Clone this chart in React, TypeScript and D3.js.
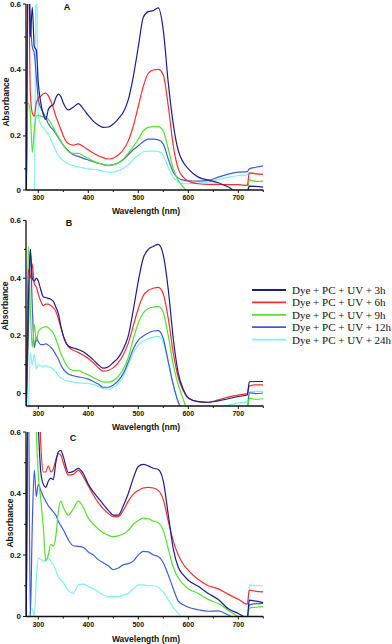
import React from "react";
import * as d3 from "d3";

// shared wavelength grid (nm)
const wavelengths = [
  276, 280, 284, 288, 292, 296, 300, 305, 310, 315, 320, 325, 330, 335, 340, 345, 350, 360, 370, 380,
  390, 400, 410, 420, 430, 440, 450, 460, 470, 480, 490, 500, 510, 520, 530, 540, 550, 560, 570, 580,
  590, 600, 620, 640, 660, 680, 700, 718, 722, 735, 750,
];

const seriesNames = [
  "Dye + PC + UV + 3h",
  "Dye + PC + UV + 6h",
  "Dye + PC + UV + 9h",
  "Dye + PC + UV + 12h",
  "Dye + PC + UV + 24h",
];
const seriesColors = ["#1c1c8e", "#f2302e", "#52e22c", "#3b5ddc", "#7cf3ec"];

const xTicks = [300, 400, 500, 600, 700];
const xMinorTicks = [350, 450, 550, 650, 750];
const yTicks = [0, 0.2, 0.4, 0.6];
const yMinorTicks = [0.1, 0.3, 0.5];

// panel A
const a3h = [0, 0.75, 0.5, 0.59, 0.47, 0.46, 0.36, 0.3, 0.265, 0.25, 0.28, 0.29, 0.295, 0.315, 0.327, 0.32, 0.3, 0.279, 0.287, 0.298, 0.282, 0.262, 0.245, 0.233, 0.226, 0.227, 0.236, 0.252, 0.272, 0.31, 0.38, 0.47, 0.56, 0.577, 0.58, 0.588, 0.52, 0.36, 0.235, 0.155, 0.12, 0.1, 0.075, 0.066, 0.058, 0.045, 0.03, 0.03, 0.048, 0.047, 0.045];
const a6h = [0, 0.75, 0.33, 0.27, 0.26, 0.3, 0.315, 0.32, 0.328, 0.33, 0.322, 0.305, 0.285, 0.26, 0.24, 0.22, 0.2, 0.177, 0.172, 0.176, 0.168, 0.158, 0.148, 0.14, 0.134, 0.13, 0.133, 0.142, 0.158, 0.185, 0.23, 0.29, 0.35, 0.39, 0.4, 0.402, 0.385, 0.29, 0.17, 0.1, 0.075, 0.063, 0.055, 0.053, 0.053, 0.052, 0.052, 0.05, 0.088, 0.085, 0.083];
const a9h = [0, 0.3, 0.27, 0.15, 0.22, 0.26, 0.262, 0.26, 0.258, 0.257, 0.25, 0.24, 0.225, 0.21, 0.198, 0.185, 0.172, 0.153, 0.147, 0.147, 0.14, 0.132, 0.124, 0.118, 0.113, 0.11, 0.112, 0.118, 0.13, 0.148, 0.168, 0.19, 0.215, 0.226, 0.228, 0.228, 0.215, 0.16, 0.1, 0.065, 0.045, 0.03, 0.025, 0.025, 0.025, 0.025, 0.025, 0.025, 0.067, 0.062, 0.063];
const a12h = [0, 0.75, 0.56, 0.47, 0.45, 0.38, 0.31, 0.285, 0.27, 0.255, 0.237, 0.226, 0.218, 0.207, 0.195, 0.183, 0.172, 0.155, 0.143, 0.138, 0.132, 0.127, 0.122, 0.117, 0.113, 0.111, 0.113, 0.118, 0.128, 0.143, 0.158, 0.17, 0.183, 0.19, 0.19, 0.188, 0.175, 0.13, 0.09, 0.072, 0.066, 0.064, 0.063, 0.065, 0.075, 0.084, 0.09, 0.092, 0.1, 0.105, 0.109];
const a24h = [0, 0, 0, 0, 0, 0.75, 0.26, 0.235, 0.225, 0.215, 0.205, 0.19, 0.172, 0.155, 0.14, 0.132, 0.125, 0.115, 0.11, 0.106, 0.103, 0.1, 0.099, 0.097, 0.093, 0.09, 0.09, 0.095, 0.102, 0.112, 0.128, 0.142, 0.152, 0.154, 0.154, 0.153, 0.14, 0.105, 0.075, 0.06, 0.055, 0.055, 0.057, 0.06, 0.068, 0.075, 0.08, 0.082, 0.088, 0.086, 0.085];

// panel B
const b3h = [-0.05, 0.3, 0.5, 0.4, 0.39, 0.4, 0.39, 0.36, 0.335, 0.333, 0.33, 0.327, 0.32, 0.3, 0.278, 0.235, 0.2, 0.165, 0.158, 0.153, 0.145, 0.132, 0.117, 0.1, 0.088, 0.093, 0.108, 0.125, 0.155, 0.2, 0.29, 0.39, 0.47, 0.5, 0.51, 0.517, 0.48, 0.36, 0.19, 0.07, 0.015, -0.015, -0.028, -0.03, -0.025, -0.018, -0.01, -0.005, 0.041, 0.042, 0.042];
const b6h = [-0.05, 0.43, 0.4, 0.45, 0.38, 0.37, 0.345, 0.32, 0.305, 0.31, 0.31, 0.305, 0.298, 0.285, 0.26, 0.23, 0.2, 0.163, 0.15, 0.143, 0.133, 0.122, 0.107, 0.09, 0.078, 0.08, 0.09, 0.107, 0.135, 0.175, 0.235, 0.295, 0.34, 0.358, 0.365, 0.368, 0.345, 0.26, 0.14, 0.055, 0.01, -0.015, -0.028, -0.03, -0.022, -0.012, -0.005, 0, 0.026, 0.03, 0.03];
const b9h = [-0.05, 0.51, 0.3, 0.16, 0.24, 0.18, 0.215, 0.225, 0.23, 0.232, 0.228, 0.22, 0.21, 0.19, 0.165, 0.14, 0.12, 0.09, 0.08, 0.08, 0.072, 0.065, 0.055, 0.047, 0.04, 0.04, 0.045, 0.06, 0.085, 0.125, 0.19, 0.245, 0.28, 0.295, 0.3, 0.302, 0.28, 0.2, 0.1, 0.03, -0.02, -0.06, -0.06, -0.06, -0.06, -0.06, -0.06, -0.06, -0.016, -0.02, -0.017];
const b12h = [-0.05, 0.2, 0.5, 0.3, 0.16, 0.195, 0.18, 0.17, 0.17, 0.172, 0.168, 0.16, 0.15, 0.135, 0.12, 0.1, 0.085, 0.068, 0.062, 0.058, 0.055, 0.05, 0.042, 0.033, 0.022, 0.022, 0.03, 0.045, 0.07, 0.11, 0.155, 0.185, 0.2, 0.21, 0.217, 0.218, 0.19, 0.11, 0.03, -0.03, -0.06, -0.06, -0.06, -0.06, -0.06, -0.06, -0.06, -0.06, 0.003, 0, 0.002];
const b24h = [-0.05, -0.05, 0.14, 0.1, 0.135, 0.085, 0.1, 0.095, 0.095, 0.097, 0.093, 0.09, 0.085, 0.075, 0.063, 0.055, 0.05, 0.043, 0.04, 0.038, 0.036, 0.035, 0.032, 0.026, 0.017, 0.015, 0.022, 0.035, 0.06, 0.1, 0.14, 0.168, 0.183, 0.19, 0.196, 0.198, 0.175, 0.11, 0.03, -0.03, -0.06, -0.06, -0.06, -0.06, -0.055, -0.04, -0.032, -0.028, 0.006, 0.008, 0.008];

// panel C
const c3h = [0, 0.8, 0.8, 0.8, 0.8, 0.8, 0.62, 0.47, 0.43, 0.42, 0.44, 0.45, 0.445, 0.5, 0.535, 0.54, 0.52, 0.468, 0.472, 0.482, 0.465, 0.43, 0.405, 0.385, 0.365, 0.345, 0.33, 0.33, 0.36, 0.4, 0.45, 0.488, 0.495, 0.49, 0.482, 0.478, 0.44, 0.33, 0.22, 0.16, 0.135, 0.118, 0.098, 0.075, 0.055, 0.025, 0.01, -0.005, 0.053, 0.05, 0.045];
const c6h = [0, 0.8, 0.8, 0.8, 0.8, 0.8, 0.8, 0.56, 0.47, 0.47, 0.49, 0.47, 0.48, 0.51, 0.53, 0.525, 0.5, 0.46, 0.462, 0.475, 0.455, 0.425, 0.395, 0.37, 0.35, 0.335, 0.325, 0.325, 0.345, 0.375, 0.398, 0.41, 0.418, 0.42, 0.418, 0.41, 0.38, 0.31, 0.245, 0.2, 0.17, 0.15, 0.12, 0.1, 0.09, 0.072, 0.056, 0.04, 0.086, 0.082, 0.08];
const c9h = [0, 0.8, 0.8, 0.8, 0.8, 0.6, 0.46, 0.38, 0.29, 0.18, 0.2, 0.235, 0.23, 0.26, 0.34, 0.375, 0.355, 0.33, 0.35, 0.375, 0.355, 0.32, 0.3, 0.285, 0.272, 0.264, 0.26, 0.262, 0.268, 0.28, 0.3, 0.312, 0.32, 0.318, 0.31, 0.305, 0.28, 0.22, 0.16, 0.125, 0.105, 0.09, 0.075, 0.055, 0.042, 0.02, 0, -0.01, 0.027, 0.03, 0.032];
const c12h = [0, 0.8, 0, 0.3, 0.476, 0.39, 0.43, 0.41, 0.39, 0.375, 0.36, 0.35, 0.34, 0.33, 0.31, 0.295, 0.282, 0.25, 0.23, 0.228, 0.225, 0.21, 0.2, 0.185, 0.175, 0.165, 0.152, 0.158, 0.168, 0.172, 0.18, 0.2, 0.212, 0.21, 0.2, 0.195, 0.175, 0.135, 0.09, 0.05, 0.038, 0.03, 0.022, 0.017, 0.018, 0.005, -0.01, -0.01, 0.038, 0.042, 0.043];
const c24h = [0, 0, 0.02, 0.025, 0, 0.12, 0.19, 0.185, 0.18, 0.185, 0.19, 0.18, 0.17, 0.15, 0.13, 0.12, 0.11, 0.085, 0.075, 0.103, 0.105, 0.098, 0.09, 0.08, 0.07, 0.065, 0.065, 0.065, 0.07, 0.075, 0.09, 0.103, 0.103, 0.1, 0.1, 0.095, 0.08, 0.055, 0.03, 0.01, -0.01, -0.02, -0.02, -0.02, -0.02, -0.02, -0.02, -0.02, 0.102, 0.1, 0.1];

const panels = [
  { id: "A", series: [a3h, a6h, a9h, a12h, a24h], yDomain: [0.036, 0.6], top: 4, bottom: 190,
    letter: [67, 7], tickY: 197, titleY: 211, absX: 6.2, absY: 102 },
  { id: "B", series: [b3h, b6h, b9h, b12h, b24h], yDomain: [-0.043, 0.6], top: 220.5, bottom: 406,
    letter: [69, 223], tickY: 413.3, titleY: 426.7, absX: 4.5, absY: 306 },
  { id: "C", series: [c3h, c6h, c9h, c12h, c24h], yDomain: [0, 0.6], top: 432, bottom: 616.5,
    letter: [73, 438], tickY: 624.7, titleY: 638.5, absX: 9.7, absY: 523 },
];

const x = d3.scaleLinear().domain([275.4, 750]).range([26, 263.3]);
const sans = "Liberation Sans, Arial, sans-serif";

function Panel({ p }) {
  const y = d3.scaleLinear().domain(p.yDomain).range([p.bottom, p.top]);
  const yPos = (v) => y(Math.max(v, p.yDomain[0]));
  const left = x.range()[0];
  const right = x.range()[1];
  const line = d3
    .line()
    .x((d) => x(d[0]))
    .y((d) => y(d[1]))
    .curve(d3.curveMonotoneX);

  return (
    <g>
      <clipPath id={"clip" + p.id}>
        <rect x={left} y={y(0.6)} width={right - left} height={p.bottom - y(0.6)} />
      </clipPath>
      <g clipPath={`url(#clip${p.id})`}>
        {p.series
          .map((vals, i) => ({ vals, i }))
          .reverse()
          .map(({ vals, i }) => (
            <path
              key={i}
              d={line(wavelengths.map((w, k) => [w, vals[k]]))}
              fill="none"
              stroke={seriesColors[i]}
              strokeWidth={1.2}
            />
          ))}
      </g>
      {/* y axis */}
      <line x1={left} x2={left} y1={y(0.6)} y2={p.bottom} stroke="#111" strokeWidth={1.3} />
      {yTicks.map((t) => (
        <g key={t}>
          <line x1={left - 3} x2={left} y1={yPos(t)} y2={yPos(t)} stroke="#111" strokeWidth={1} />
          <text x={left - 5} y={yPos(t)} textAnchor="end" dominantBaseline="central"
            fontFamily={sans} fontWeight="bold" fontSize={8} fill="#111">
            {t === 0 ? "0" : t.toFixed(1)}
          </text>
        </g>
      ))}
      {yMinorTicks.map((t) => (
        <line key={t} x1={left - 2} x2={left} y1={y(t)} y2={y(t)} stroke="#111" strokeWidth={1} />
      ))}
      {/* x axis */}
      <line x1={left} x2={right} y1={p.bottom} y2={p.bottom} stroke="#111" strokeWidth={1.3} />
      {xTicks.map((t) => (
        <g key={t}>
          <line x1={x(t)} x2={x(t)} y1={p.bottom} y2={p.bottom + 3} stroke="#111" strokeWidth={1} />
          <text x={x(t)} y={p.tickY} textAnchor="middle" dominantBaseline="central"
            fontFamily={sans} fontWeight="bold" fontSize={7} fill="#111">
            {t}
          </text>
        </g>
      ))}
      {xMinorTicks.map((t) => (
        <line key={t} x1={x(t)} x2={x(t)} y1={p.bottom} y2={p.bottom + 2} stroke="#111" strokeWidth={1} />
      ))}
      <text x={146} y={p.titleY} textAnchor="middle" dominantBaseline="central"
        fontFamily={sans} fontWeight="bold" fontSize={8.5} fill="#111">
        Wavelength (nm)
      </text>
      <text transform={`translate(${p.absX},${p.absY}) rotate(-90)`} textAnchor="middle"
        dominantBaseline="central" fontFamily={sans} fontWeight="bold" fontSize={8.5} fill="#111">
        Absorbance
      </text>
      <text x={p.letter[0]} y={p.letter[1]} textAnchor="middle" dominantBaseline="central"
        fontFamily={sans} fontWeight="bold" fontSize={9} fill="#111">
        {p.id}
      </text>
    </g>
  );
}

export default function App() {
  return (
    <svg width={392} height={644} style={{ position: "absolute", left: 0, top: 0, background: "#fff" }}>
      {panels.map((p) => (
        <Panel key={p.id} p={p} />
      ))}
      {seriesNames.map((name, i) => (
        <g key={name}>
          <line x1={252} x2={286} y1={290 + i * 12.4} y2={290 + i * 12.4}
            stroke={seriesColors[i]} strokeWidth={1.8} />
          <text x={292} y={290 + i * 12.4} dominantBaseline="central"
            fontFamily="Liberation Serif, Times New Roman, serif" fontSize={11} fill="#111">
            {name}
          </text>
        </g>
      ))}
    </svg>
  );
}
